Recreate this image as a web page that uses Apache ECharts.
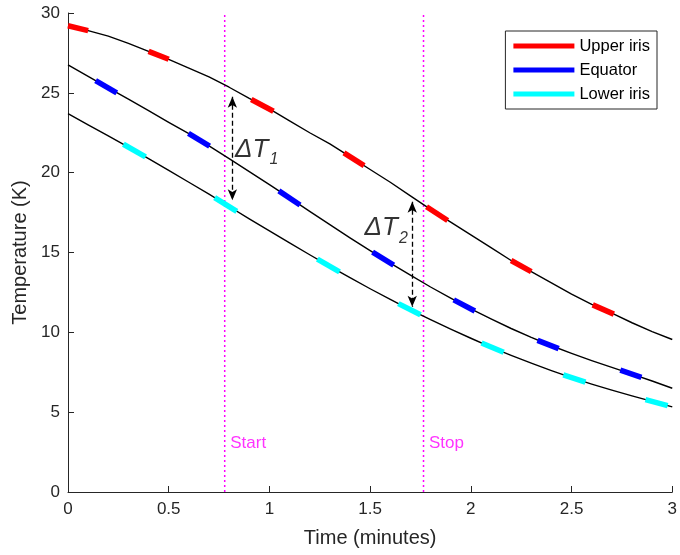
<!DOCTYPE html>
<html><head><meta charset="utf-8">
<script src="https://cdn.jsdelivr.net/npm/echarts@6/dist/echarts.min.js"></script>
<style>html,body{margin:0;padding:0;background:#fff}#c{width:680px;height:555px}</style>
</head><body><div id="c"></div>
<script>
// ---- data ----
const timeMin = [0,0.1,0.2,0.3,0.4,0.5,0.6,0.7,0.8,0.9,1.0,1.1,1.2,1.3,1.4,1.5,1.6,1.7,1.8,1.9,2.0,2.1,2.2,2.3,2.4,2.5,2.6,2.7,2.8,2.9,3.0];
const upperIris = [29.2,28.9,28.55,28.1,27.6,27.1,26.55,26.0,25.35,24.65,24.0,23.25,22.5,21.8,21.0,20.2,19.4,18.55,17.7,16.9,16.1,15.3,14.5,13.8,13.1,12.4,11.75,11.2,10.6,10.05,9.55];
const equator = [26.75,26.03,25.31,24.6,23.88,23.15,22.45,21.68,20.88,20.07,19.25,18.42,17.58,16.75,15.92,15.12,14.34,13.58,12.84,12.14,11.47,10.84,10.24,9.68,9.16,8.68,8.23,7.81,7.38,6.95,6.5];
const lowerIris = [23.7,23.0,22.3,21.6,20.88,20.15,19.4,18.65,17.88,17.1,16.35,15.6,14.86,14.13,13.42,12.73,12.06,11.41,10.79,10.2,9.63,9.08,8.56,8.07,7.6,7.16,6.76,6.38,6.02,5.68,5.33];
// coloured thick segments: [tStart, TStart, tEnd, TEnd]
const upperDashes = [[0,29.2,0.1,28.9],[0.4,27.6,0.5,27.1],[0.91,24.58,1.02,23.85],[1.37,21.24,1.47,20.44],[1.78,17.87,1.885,17.0],[2.2,14.5,2.3,13.8],[2.605,11.72,2.71,11.14]];
const equatorDashes = [[0.137,25.77,0.242,25.0],[0.598,22.46,0.703,21.66],[1.047,18.86,1.152,17.98],[1.512,15.02,1.617,14.21],[1.915,12.03,2.02,11.34],[2.331,9.5,2.436,8.98],[2.742,7.63,2.847,7.18]];
const lowerDashes = [[0.275,21.78,0.385,20.99],[0.728,18.44,0.838,17.58],[1.238,14.58,1.348,13.79],[1.64,11.8,1.75,11.1],[2.053,9.33,2.163,8.75],[2.459,7.34,2.569,6.88],[2.867,5.79,2.977,5.41]];
const seriesNames = ['Upper iris','Equator','Lower iris'];
const seriesColors = ['#FF0000','#0000FF','#00FFFF'];
const markerTimes = [0.778, 1.765];
const markerLabels = ['Start','Stop'];
const markerLabelT = 3.0;
const deltaArrows = [[0.816,24.75,18.28],[1.709,18.18,11.6]];
const deltaLabels = [['1',0.832,21.4],['2',1.475,16.5]];

// ---- chart ----
const FONT = 'Liberation Sans, Arial, Helvetica, sans-serif';
const AX = '#262626';
const curves = [upperIris, equator, lowerIris];
const dashes = [upperDashes, equatorDashes, lowerDashes];

const series = [];
curves.forEach((c, i) => {
  series.push({
    type: 'line', name: '_curve' + i, data: timeMin.map((t, k) => [t, c[k]]),
    smooth: false, symbol: 'none', silent: true, z: 2,
    lineStyle: { color: '#000', width: 1.4, join: 'round' }
  });
});
dashes.forEach((d, i) => {
  series.push({
    type: 'custom', name: seriesNames[i], data: d, z: 5, silent: true,
    itemStyle: { color: seriesColors[i] },
    encode: { x: [0, 2], y: [1, 3] },
    renderItem: function (params, api) {
      const p0 = api.coord([api.value(0), api.value(1)]);
      const p1 = api.coord([api.value(2), api.value(3)]);
      return { type: 'line', shape: { x1: p0[0], y1: p0[1], x2: p1[0], y2: p1[1] },
        style: { stroke: seriesColors[i], lineWidth: 5.5, lineCap: 'butt' } };
    }
  });
});
markerTimes.forEach((t, i) => {
  series.push({
    type: 'line', name: '_mk' + i, data: [[t, 0], [t, 30]], symbol: 'none', silent: true, z: 1,
    lineStyle: { color: '#FF00FF', width: 1.5, type: [2, 3] }
  });
  series.push({
    type: 'scatter', name: '_mkl' + i, data: [[t, markerLabelT]], symbolSize: 1, silent: true,
    itemStyle: { color: 'rgba(0,0,0,0)' },
    label: { show: true, position: [6, 0], align: 'left', verticalAlign: 'middle',
      formatter: markerLabels[i], color: '#FF00FF', fontSize: 17, fontFamily: FONT }
  });
});
series.push({
  type: 'line', name: '_arrows', data: [], silent: true,
  markLine: {
    silent: true, symbol: ['arrow', 'arrow'], symbolSize: [7, 11], animation: false,
    label: { show: false },
    lineStyle: { color: '#000', width: 1.3, type: [5, 3] },
    data: deltaArrows.map(a => [{ coord: [a[0], a[1]] }, { coord: [a[0], a[2]] }])
  }
});
deltaLabels.forEach((d, i) => {
  series.push({
    type: 'scatter', name: '_dl' + i, data: [[d[1], d[2]]], symbolSize: 1, silent: true,
    itemStyle: { color: 'rgba(0,0,0,0)' }, z: 6,
    label: { show: true, position: [0, 0], align: 'left', verticalAlign: 'middle',
      formatter: '{a|ΔT}{s|' + d[0] + '}',
      rich: {
        a: { fontSize: 26, fontStyle: 'italic', fontFamily: FONT, color: '#000', lineHeight: 30 },
        s: { fontSize: 16, fontStyle: 'italic', fontFamily: FONT, color: '#000', verticalAlign: 'bottom', lineHeight: 16, padding: [0, 0, -3, 1] }
      } }
  });
});

const chart = echarts.init(document.getElementById('c'), null, { renderer: 'canvas' });
chart.setOption({
  animation: false,
  backgroundColor: '#fff',
  grid: { left: 68, right: 4, top: 13, bottom: 63, containLabel: false },
  xAxis: {
    type: 'value', min: 0, max: 3, interval: 0.5,
    name: 'Time (minutes)', nameLocation: 'middle', nameGap: 36,
    nameTextStyle: { fontSize: 20, color: AX, fontFamily: FONT },
    axisLine: { show: true, lineStyle: { color: AX, width: 1 } },
    axisTick: { show: true, inside: true, length: 6, lineStyle: { color: AX } },
    axisLabel: { fontSize: 17, color: AX, fontFamily: FONT, margin: 9 },
    splitLine: { show: false }
  },
  yAxis: {
    type: 'value', min: 0, max: 30, interval: 5,
    name: 'Temperature (K)', nameLocation: 'middle', nameGap: 35,
    nameTextStyle: { fontSize: 20, color: AX, fontFamily: FONT },
    axisLine: { show: true, lineStyle: { color: AX, width: 1 } },
    axisTick: { show: true, inside: true, length: 6, lineStyle: { color: AX } },
    axisLabel: { fontSize: 17, color: AX, fontFamily: FONT, margin: 8 },
    splitLine: { show: false }
  },
  legend: {
    data: seriesNames, orient: 'vertical', right: 23, top: 31,
    icon: 'rect', itemWidth: 61, itemHeight: 5, itemGap: 6,
    padding: [6, 7, 6, 8], borderColor: AX, borderWidth: 1, backgroundColor: '#fff',
    textStyle: { fontSize: 16.5, color: '#000', fontFamily: FONT, lineHeight: 18 },
    selectedMode: false
  },
  series: series
});
</script></body></html>
